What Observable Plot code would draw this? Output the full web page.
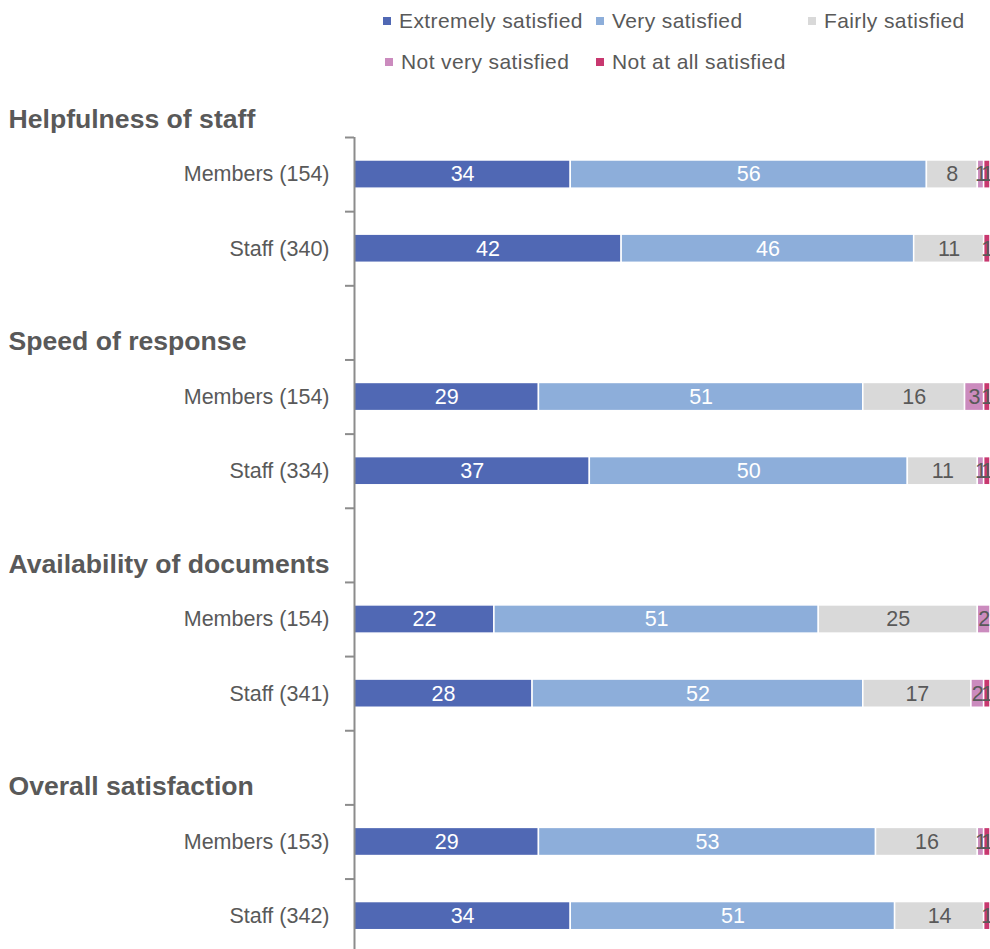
<!DOCTYPE html>
<html>
<head>
<meta charset="utf-8">
<script src="https://cdn.jsdelivr.net/npm/d3@7"></script>
<script src="https://cdn.jsdelivr.net/npm/@observablehq/plot@0.6"></script>
<style>
  html, body { margin: 0; padding: 0; background: #fff; overflow: hidden; }
  body { width: 990px; font-family: "Liberation Sans", Arial, sans-serif; color: #595959; }
  #legend {
    height: 90px; box-sizing: border-box; padding: 9px 0 0 383px;
    display: grid; grid-template-columns: 213px 212px 180px; row-gap: 17px;
    font-size: 21px; letter-spacing: 0.4px;
  }
  #legend .item { display: flex; align-items: center; white-space: nowrap; height: 24px; }
  #legend .sw { width: 8px; height: 8px; margin-right: 8px; flex: none; }
  #legend .item:nth-child(4) { margin-left: 2px; }
  #chart svg { display: block; }
</style>
</head>
<body>
<div id="legend"></div>
<div id="chart"></div>
<script>
// Satisfaction levels and their colours
const levels = ["Extremely satisfied", "Very satisfied", "Fairly satisfied", "Not very satisfied", "Not at all satisfied"];
const levelColors = ["#5068B4", "#8DAEDA", "#D9D9D9", "#CB8BBE", "#C8386F"];
const labelColors = ["#ffffff", "#ffffff", "#595959", "#595959", "#595959"];

// Question groups and respondent rows
const groups = ["Helpfulness of staff", "Speed of response", "Availability of documents", "Overall satisfaction"];
const rowLabels = [
  "Members (154)", "Staff (340)",
  "Members (154)", "Staff (334)",
  "Members (154)", "Staff (341)",
  "Members (153)", "Staff (342)"
];

// Percentages per row, one array per satisfaction level
const extremely = [34, 42, 29, 37, 22, 28, 29, 34];
const very      = [56, 46, 51, 50, 51, 52, 53, 51];
const fairly    = [ 8, 11, 16, 11, 25, 17, 16, 14];
const notVery   = [ 1,  0,  3,  1,  2,  2,  1,  0];
const notAtAll  = [ 1,  1,  1,  1,  0,  1,  1,  1];
const series = [extremely, very, fairly, notVery, notAtAll];

// Each group takes three slots: a header slot, then Members, then Staff
const rowPos = rowLabels.map((_, i) => Math.floor(i / 2) * 3 + (i % 2));
const headerPos = groups.map((_, g) => g * 3 - 1);

// Flatten into stacked segments
const segments = [];
rowLabels.forEach((label, i) => {
  let x = 0;
  series.forEach((vals, k) => {
    const v = vals[i];
    segments.push({row: rowPos[i], level: levels[k], k, value: v, x1: x, x2: x + v});
    x += v;
  });
});
const shown = segments.filter(d => d.value > 0);

// Legend
const legend = d3.select("#legend");
levels.forEach((name, k) => {
  const it = legend.append("div").attr("class", "item");
  it.append("div").attr("class", "sw").style("background", levelColors[k]);
  it.append("span").text(name);
});
legend.style("row-gap", "17px").style("grid-auto-rows", "24px");

const half = 0.19; // half bar thickness in row units
const fontFamily = '"Liberation Sans", Arial, sans-serif';

const chart = Plot.plot({
  width: 990,
  height: 859,
  marginLeft: 354,
  marginRight: 0,
  marginTop: 47,
  marginBottom: 0,
  style: {fontFamily, background: "#fff", overflow: "hidden"},
  x: {domain: [0, 100], axis: null},
  y: {domain: [-0.5, 10.45], reverse: true, axis: null},
  color: {domain: levels, range: levelColors},
  marks: [
    // stacked bars
    Plot.rectX(shown, {
      x1: "x1", x2: "x2",
      y1: d => d.row - half, y2: d => d.row + half,
      fill: "level", stroke: "#fff", strokeWidth: 1.5
    }),
    // value labels
    Plot.text(shown, {
      x: d => (d.x1 + d.x2) / 2, y: "row",
      text: d => String(d.value),
      fill: d => labelColors[d.k],
      fontSize: 21.5
    }),
    // tick marks at slot boundaries
    Plot.axisY({
      ticks: d3.range(-0.5, 10.5, 1), label: null,
      tickSize: 9, tickFormat: () => "", stroke: "#8C8C8C", strokeWidth: 2
    }),
    // vertical axis line
    Plot.ruleX([0], {y1: -0.5, y2: 10.45, stroke: "#8C8C8C", strokeWidth: 2}),
    // row labels
    Plot.text(rowLabels, {
      x: 0, y: (d, i) => rowPos[i], text: d => d,
      textAnchor: "end", dx: -25, fill: "#595959",
      fontSize: 21.5
    }),
    // group headers
    Plot.text(groups, {
      x: 0, y: (d, i) => headerPos[i], text: d => d,
      textAnchor: "start", dx: -346, dy: 19, fill: "#595959",
      fontSize: 26.6, fontWeight: "bold"
    })
  ]
});
document.getElementById("chart").append(chart);
</script>
</body>
</html>
